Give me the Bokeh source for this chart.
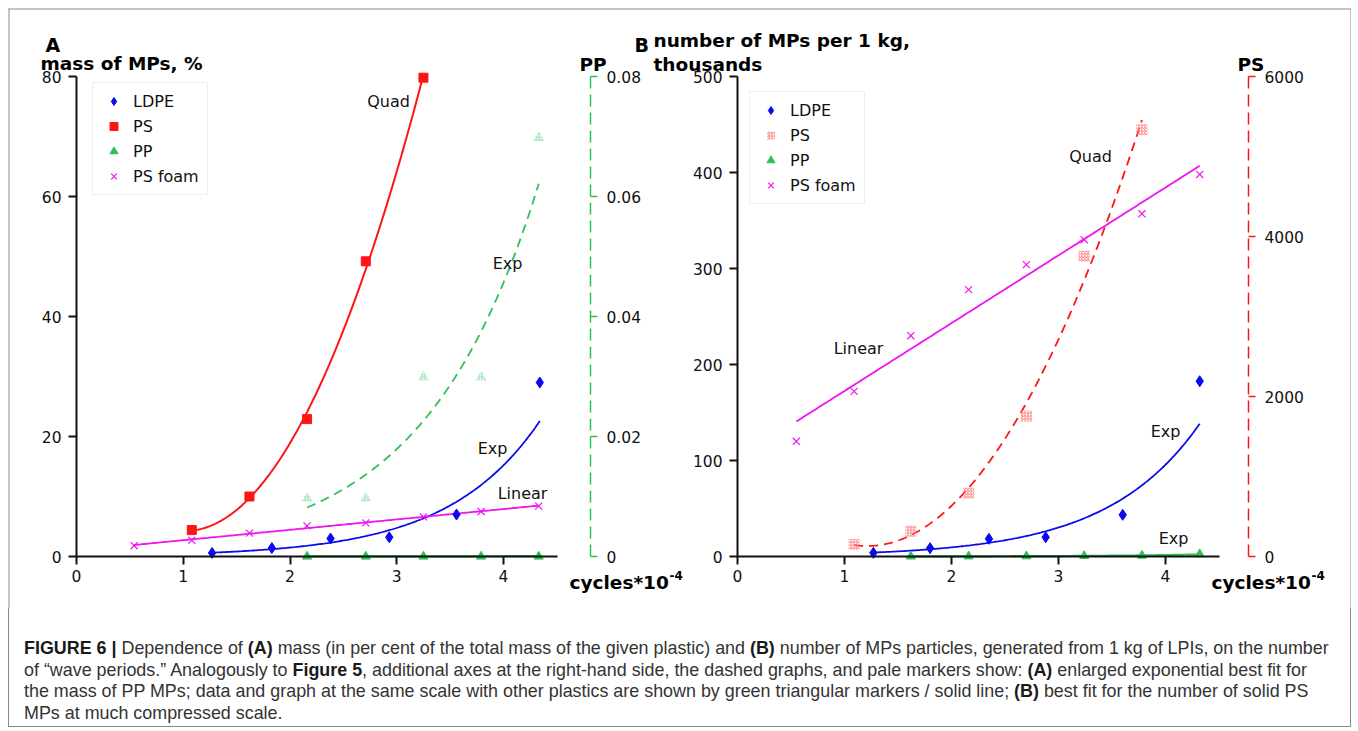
import numpy as np
from bokeh.plotting import figure
from bokeh.models import (Range1d, LinearAxis, FixedTicker, Label, Legend, LegendItem,
                          Div, CustomJSTickFormatter)
from bokeh.layouts import column
from bokeh.embed import file_html
from bokeh.resources import INLINE

# ---------------- data ----------------
# Panel A: mass of MPs, % (PP also on its own enlarged right-hand scale)
a_foam_x = [0.54, 1.08, 1.62, 2.16, 2.71, 3.25, 3.79, 4.33]
a_foam_y = [1.8, 2.7, 3.9, 5.1, 5.6, 6.6, 7.5, 8.4]
a_ps_x = [1.08, 1.62, 2.16, 2.71, 3.25]
a_ps_y = [4.4, 10.0, 22.9, 49.2, 79.8]
a_ldpe_x = [1.27, 1.83, 2.38, 2.93, 3.56, 4.34]
a_ldpe_y = [0.6, 1.4, 3.0, 3.2, 7.0, 29.0]
a_pp_x = [2.16, 2.71, 3.25, 3.79, 4.33]
a_pp_y = [0.0097, 0.0097, 0.0299, 0.0299, 0.0698]

# Panel B: number of MPs per 1 kg, thousands (PS on compressed right-hand scale)
b_foam_x = [0.55, 1.09, 1.62, 2.16, 2.70, 3.24, 3.78, 4.32]
b_foam_y = [120, 172, 230, 278, 304, 330, 357, 398]
b_ps_x = [1.09, 1.62, 2.16, 2.70, 3.24, 3.78]
b_ps_y = [150, 316, 791, 1754, 3754, 5333]
b_ldpe_x = [1.27, 1.80, 2.35, 2.88, 3.60, 4.32]
b_ldpe_y = [3.8, 8.7, 18.4, 20.1, 43.4, 182.6]
b_pp_x = [1.62, 2.16, 2.70, 3.24, 3.78, 4.32]
b_pp_y = [0.1, 0.2, 0.3, 0.6, 1.0, 2.5]

x_ticks = [0, 1, 2, 3, 4]
a_left_ticks = [0, 20, 40, 60, 80]
a_right_ticks = [0, 0.02, 0.04, 0.06, 0.08]
b_left_ticks = [0, 100, 200, 300, 400, 500]
b_right_ticks = [0, 2000, 4000, 6000]

legend_labels = ["LDPE", "PS", "PP", "PS foam"]

caption_lines = [
    '<b>FIGURE 6 |</b> Dependence of <b>(A)</b> mass (in per cent of the total mass of the given plastic) and <b>(B)</b> number of MPs particles, generated from 1 kg of LPIs, on the number',
    'of \u201cwave periods.\u201d Analogously to <b>Figure 5</b>, additional axes at the right-hand side, the dashed graphs, and pale markers show: <b>(A)</b> enlarged exponential best fit for',
    'the mass of PP MPs; data and graph at the same scale with other plastics are shown by green triangular markers / solid line; <b>(B)</b> best fit for the number of solid PS',
    'MPs at much compressed scale.',
]

# ---------------- colours ----------------
BLUE = "#0a0af0"
RED = "#ff1414"
GREEN = "#2fbf58"
MAG = "#f014f0"
PALE_RED = "#ff7f7f"
PALE_GREEN = "#8fe0a8"
FRAME = "#8a8a8a"
FONT = "DejaVu Sans"


def fit(x, y, kind, n=200):
    x = np.asarray(x, float)
    y = np.asarray(y, float)
    xs = np.linspace(x.min(), x.max(), n)
    if kind == "lin":
        ys = np.polyval(np.polyfit(x, y, 1), xs)
    elif kind == "quad":
        ys = np.polyval(np.polyfit(x, y, 2), xs)
    else:
        ys = np.exp(np.polyval(np.polyfit(x, np.log(y), 1), xs))
    return xs, ys


# ---------------- layout (page pixels) ----------------
W, H = 1351, 608
CAP_H = 120


def xr(zero_px, px_per_unit):
    return Range1d(-zero_px / px_per_unit, (W - zero_px) / px_per_unit)


def yr(zero_px, px_per_unit):
    return Range1d((zero_px - H) / px_per_unit, zero_px / px_per_unit)


AX0, AXS = 76.0, 106.75
AY0 = 556.0
BX0, BXS = 737.0, 107.0
BY0 = 556.0

p = figure(width=W, height=H, output_backend="svg", toolbar_location=None,
           x_range=Range1d(0, W), y_range=Range1d(H, 0),
           x_axis_location=None, y_axis_location=None, min_border=0)
p.outline_line_color = None
p.background_fill_color = "white"
p.border_fill_color = "white"
for g in p.grid:
    g.visible = False

p.extra_x_ranges = {"xa": xr(AX0, AXS), "xb": xr(BX0, BXS)}
p.extra_y_ranges = {"ya": yr(AY0, 480 / 80), "ppa": yr(AY0, 480 / 0.08),
                    "yb": yr(BY0, 480 / 500), "psb": yr(BY0, 480 / 6000)}

# outer frame (top, left, right)
p.segment(x0=[8, 8.5, 1350.5], y0=[8.5, 8, 8], x1=[1351, 8.5, 1350.5], y1=[8.5, H, H],
          line_color=FRAME, line_width=1)


def add_axis(side, xname, yname, loc, bounds, ticks, color="#111111", dash="solid",
             width=2, fmt=None, standoff=6, tick_out=8):
    ax = LinearAxis(x_range_name=xname, y_range_name=yname, fixed_location=loc,
                    bounds=bounds, ticker=FixedTicker(ticks=ticks, minor_ticks=[]))
    ax.axis_line_color = color
    ax.axis_line_width = width
    ax.axis_line_dash = dash
    ax.major_tick_line_color = color
    ax.major_tick_line_width = width
    ax.major_tick_out = tick_out
    ax.major_tick_in = 0
    ax.minor_tick_line_color = None
    ax.major_label_text_font = FONT
    ax.major_label_text_font_size = "15.5px"
    ax.major_label_text_color = "#111111"
    ax.major_label_standoff = standoff
    if fmt is not None:
        ax.formatter = fmt
    p.add_layout(ax, side)
    return ax


jsfmt = CustomJSTickFormatter(code="return tick.toString();")

# ---- panel A axes
add_axis("below", "xa", "ya", 0, (0, 4.51), x_ticks, standoff=5)
add_axis("left", "xa", "ya", 0, (0, 80), a_left_ticks, standoff=7)
add_axis("right", "xa", "ppa", (590 - AX0) / AXS, (0, 0.08), a_right_ticks,
         color=GREEN, dash="12 6", width=1.5, fmt=jsfmt, standoff=9, tick_out=7)
# ---- panel B axes
add_axis("below", "xb", "yb", 0, (0, 4.5), x_ticks, standoff=5)
add_axis("left", "xb", "yb", 0, (0, 500), b_left_ticks, standoff=7)
add_axis("right", "xb", "psb", (1248 - BX0) / BXS, (0, 6000), b_right_ticks,
         color=RED, dash="12 6", width=1.5, standoff=9, tick_out=7)

# ---------------- panel A glyphs ----------------
ka = dict(x_range_name="xa", y_range_name="ya")
xs, ys = fit(a_ps_x, a_ps_y, "quad")
p.line(xs, ys, line_color=RED, line_width=2, **ka)
xs, ys = fit(a_ldpe_x, a_ldpe_y, "exp")
p.line(xs, ys, line_color=BLUE, line_width=1.8, **ka)
xs, ys = fit(a_foam_x, a_foam_y, "lin")
p.line(xs, ys, line_color=MAG, line_width=1.8, **ka)
xs, ys = fit(a_pp_x, a_pp_y, "exp")
p.line(xs, ys, line_color=GREEN, line_width=2.2, **ka)
p.line(xs, ys, line_color=GREEN, line_width=1.8, line_dash="9 6",
       x_range_name="xa", y_range_name="ppa")
p.scatter(a_pp_x, a_pp_y, marker="triangle", size=11, fill_color=None, line_color=None,
          hatch_pattern="right_diagonal_line", hatch_color=PALE_GREEN, hatch_scale=3,
          hatch_weight=1, x_range_name="xa", y_range_name="ppa")

ra_ldpe = p.scatter(a_ldpe_x, a_ldpe_y, marker="diamond", size=11, color=BLUE, **ka)
ra_ps = p.scatter(a_ps_x, a_ps_y, marker="square", size=9, color=RED, **ka)
ra_pp = p.scatter(a_pp_x, [0] * len(a_pp_x), marker="triangle", size=9, color=GREEN, **ka)
ra_foam = p.scatter(a_foam_x, a_foam_y, marker="x", size=10, line_color=MAG, line_width=1.2, **ka)

# ---------------- panel B glyphs ----------------
kb = dict(x_range_name="xb", y_range_name="yb")
xs, ys = fit(b_foam_x, b_foam_y, "lin")
p.line(xs, ys, line_color=MAG, line_width=1.8, **kb)
xs, ys = fit(b_ps_x, b_ps_y, "quad")
p.line(xs, ys, line_color=RED, line_width=1.8, line_dash="9 6",
       x_range_name="xb", y_range_name="psb")
xs, ys = fit(b_ldpe_x, b_ldpe_y, "exp")
p.line(xs, ys, line_color=BLUE, line_width=1.8, **kb)
xs, ys = fit(b_pp_x, b_pp_y, "exp")
p.line(xs, ys, line_color=GREEN, line_width=2.2, **kb)

rb_ldpe = p.scatter(b_ldpe_x, b_ldpe_y, marker="diamond", size=11, color=BLUE, **kb)
rb_ps = p.scatter(b_ps_x, b_ps_y, marker="square", size=11, fill_color=None, line_color=None,
                  hatch_pattern="right_diagonal_line", hatch_color=PALE_RED, hatch_scale=3,
                  hatch_weight=1, x_range_name="xb", y_range_name="psb")
rb_pp = p.scatter(b_pp_x, b_pp_y, marker="triangle", size=9, color=GREEN, **kb)
rb_foam = p.scatter(b_foam_x, b_foam_y, marker="x", size=10, line_color=MAG, line_width=1.2, **kb)


# ---------------- legends ----------------
def add_legend(rends, loc):
    lg = Legend(items=[LegendItem(label=l, renderers=[r]) for l, r in zip(legend_labels, rends)],
                location=loc, orientation="vertical")
    lg.label_text_font = FONT
    lg.label_text_font_size = "16px"
    lg.label_text_color = "#111111"
    lg.label_height = 20
    lg.glyph_height = 20
    lg.glyph_width = 25
    lg.spacing = 5
    lg.padding = 8
    lg.margin = 0
    lg.label_standoff = 7
    lg.border_line_color = "#dddddd"
    lg.border_line_width = 1
    lg.background_fill_color = "white"
    lg.background_fill_alpha = 1
    p.add_layout(lg)


add_legend([ra_ldpe, ra_ps, ra_pp, ra_foam], (92, H - 195))
add_legend([rb_ldpe, rb_ps, rb_pp, rb_foam], (749, H - 204))


# ---------------- texts ----------------
def txt(x, y, s, size="16px", bold=False, align="center", base="middle", color="#111111"):
    p.add_layout(Label(x=x, y=y, text=s, text_font=FONT, text_font_size=size,
                       text_font_style="bold" if bold else "normal", text_align=align,
                       text_baseline=base, text_color=color))


# fit labels
txt(388, 101, "Quad")
txt(507, 263, "Exp")
txt(492, 448, "Exp")
txt(522, 493, "Linear")
txt(1090, 156, "Quad")
txt(858, 348, "Linear")
txt(1165, 431, "Exp")
txt(1173, 538, "Exp")

# titles
BK = "#000000"
txt(45, 44, "A", size="19px", bold=True, align="left", base="alphabetic", color=BK)
txt(40, 63, "mass of MPs, %", size="18.5px", bold=True, align="left", base="alphabetic", color=BK)
txt(579, 64, "PP", size="18.5px", bold=True, align="left", base="alphabetic", color=BK)
txt(634, 44, "B", size="19px", bold=True, align="left", base="alphabetic", color=BK)
txt(653, 40, "number of MPs per 1 kg,", size="18.5px", bold=True, align="left", base="alphabetic", color=BK)
txt(653, 63.5, "thousands", size="18.5px", bold=True, align="left", base="alphabetic", color=BK)
txt(1237, 64, "PS", size="18.5px", bold=True, align="left", base="alphabetic", color=BK)

# x-axis titles with superscript
for x_left in (569, 1211):
    txt(x_left, 582, "cycles*10", size="18.5px", bold=True, align="left", base="alphabetic", color=BK)
    txt(x_left + 100, 575, "-4", size="12px", bold=True, align="left", base="alphabetic", color=BK)

# ---------------- caption ----------------
cap_html = (
    '<div style="box-sizing:border-box;width:1343px;height:%dpx;margin:0 0 0 8px;'
    'border-left:1px solid %s;border-right:1px solid %s;border-bottom:1px solid %s;'
    'padding:30px 0 0 15px;font-family:\'Liberation Sans\',Arial,sans-serif;'
    'font-size:17.9px;line-height:21.5px;color:#333333;white-space:nowrap;">%s</div>'
    % (CAP_H - 1, FRAME, FRAME, FRAME,
       "<br>".join(l.replace("<b>", '<b style="color:#1a1a1a">') for l in caption_lines))
)
cap = Div(text=cap_html, width=W, height=CAP_H, margin=0)

layout = column(p, cap, spacing=0)
open("out.html", "w").write(file_html(layout, INLINE))
